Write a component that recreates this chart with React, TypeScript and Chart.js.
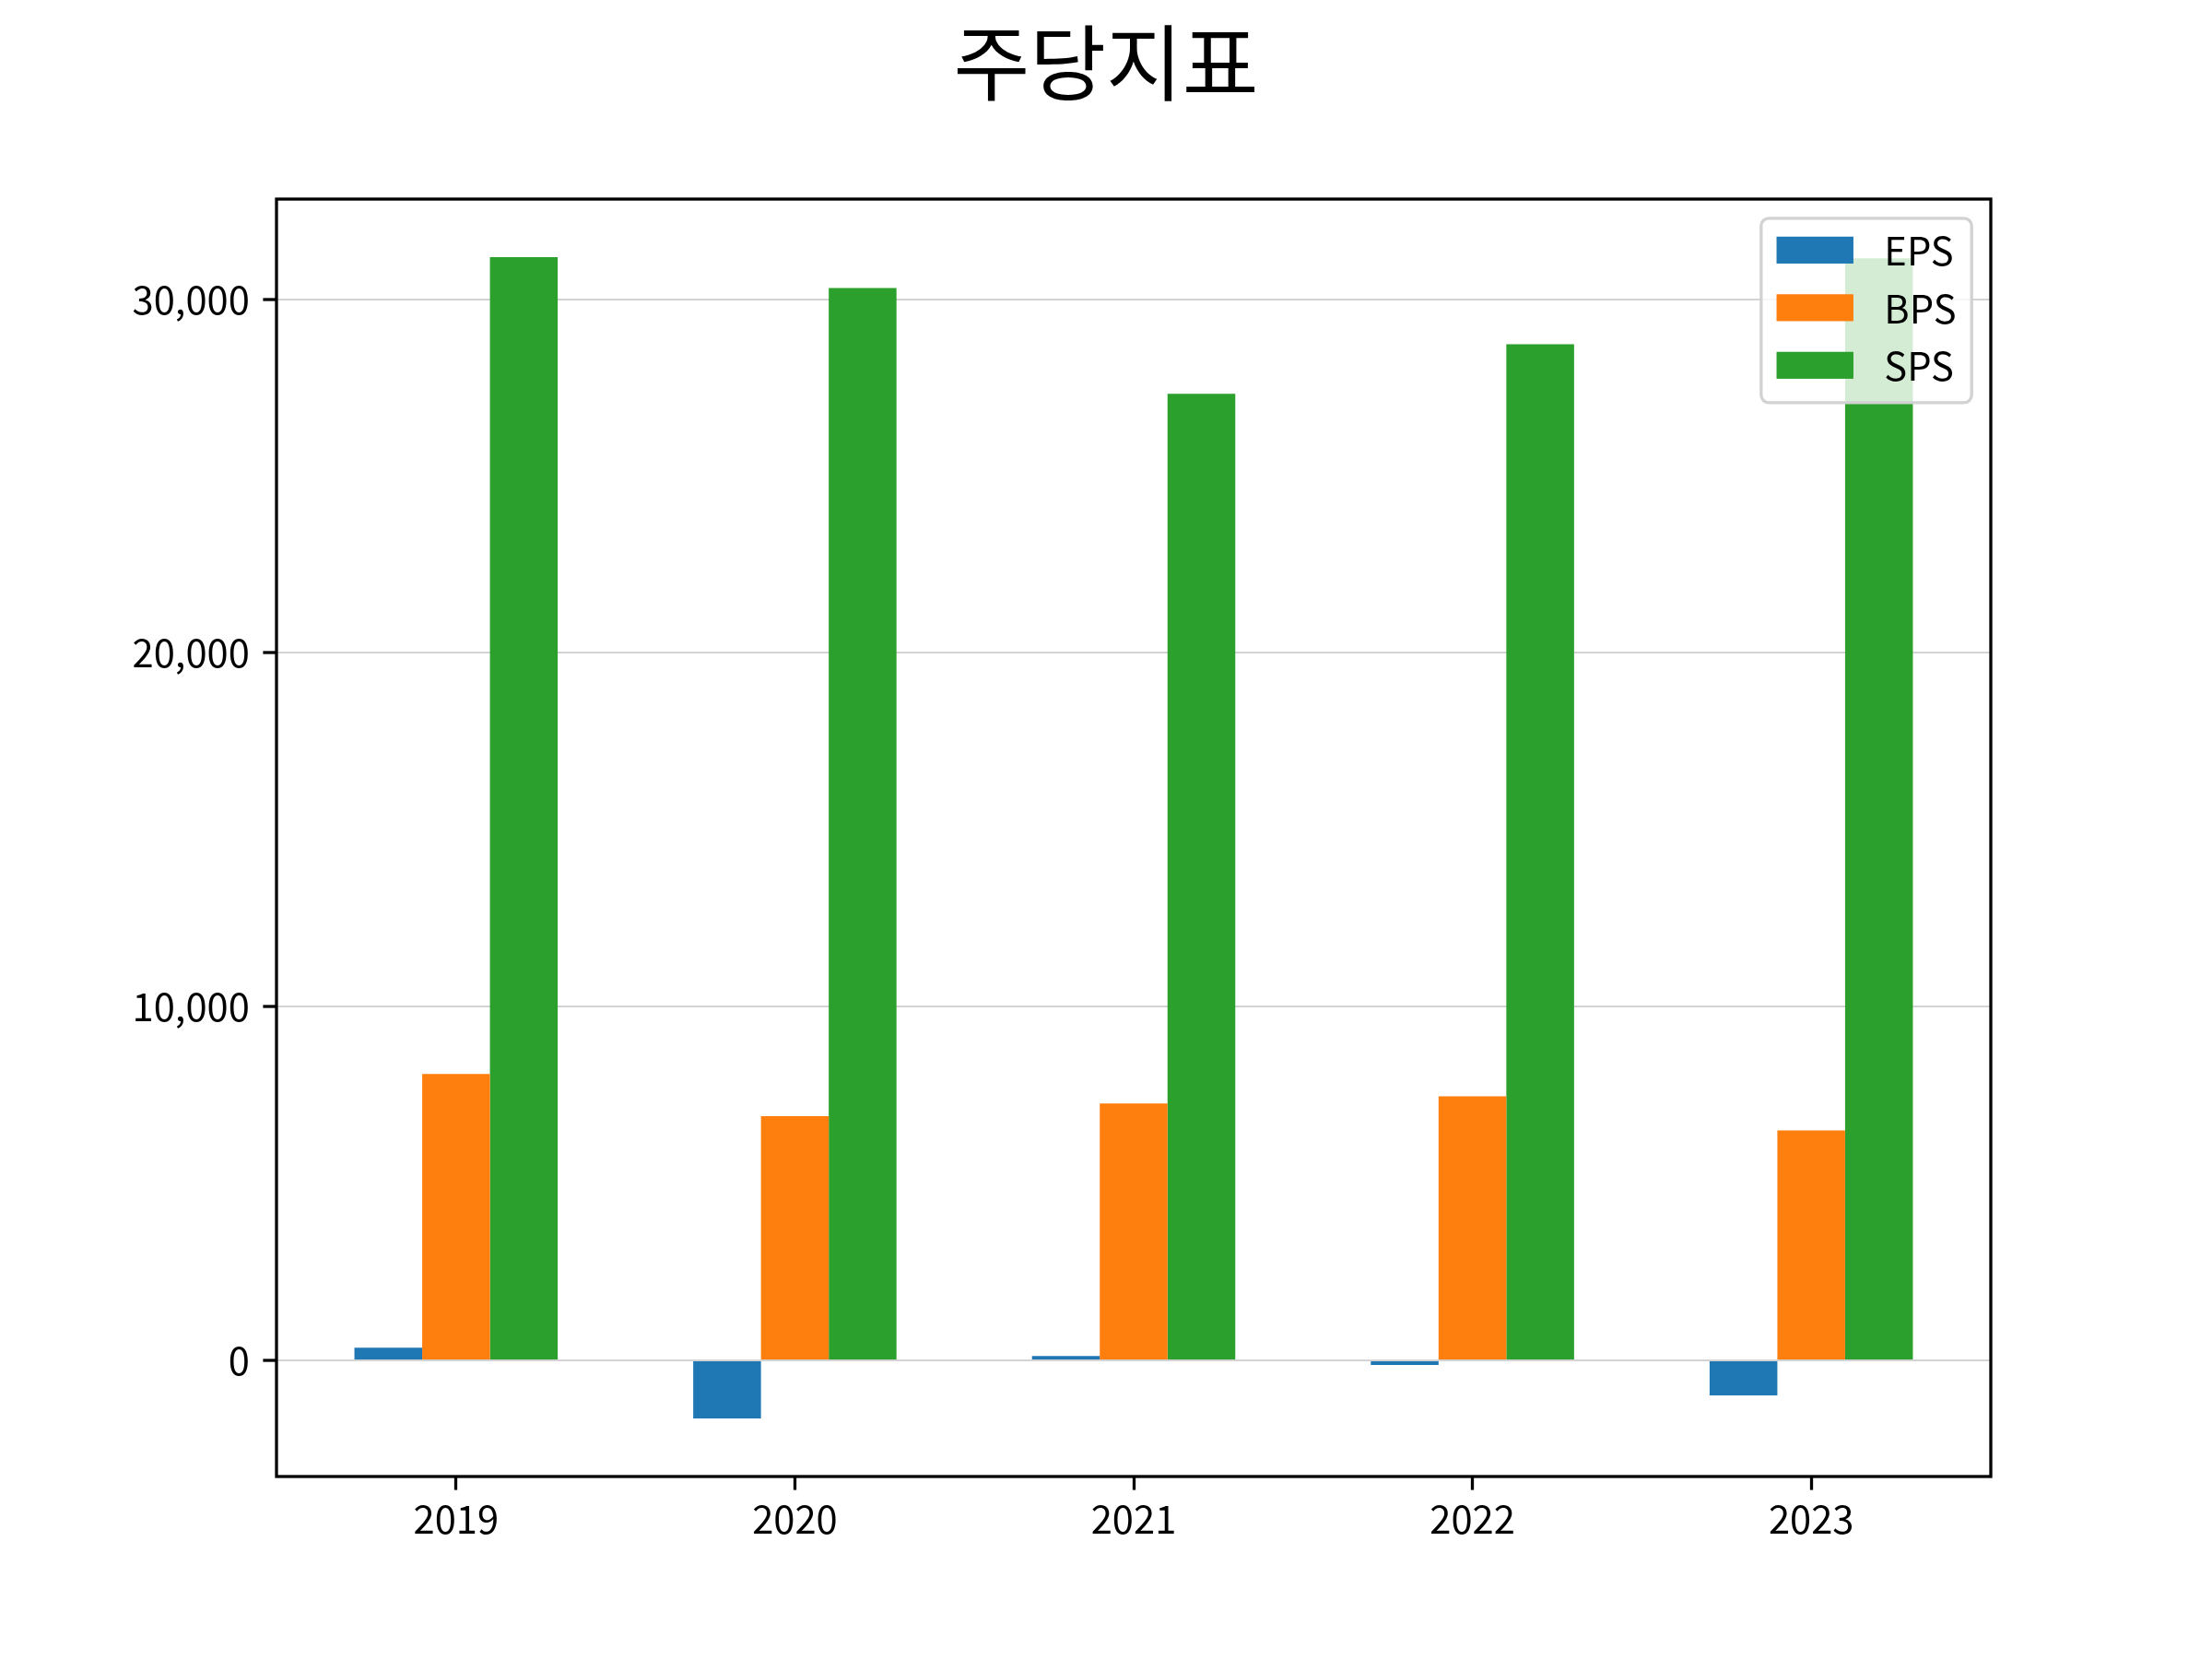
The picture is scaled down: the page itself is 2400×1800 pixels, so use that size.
import { useEffect, useRef } from "react";
import { Chart, registerables } from "chart.js";
import type { Plugin } from "chart.js";

Chart.register(...registerables);

const TITLE = "주당지표";
const YEARS = ["2019", "2020", "2021", "2022", "2023"];
const EPS = [357, -1640, 122, -130, -990];
const BPS = [8100, 6905, 7265, 7465, 6505];
const SPS = [31190, 30320, 27330, 28725, 31160];
const Y_TICKS = [0, 10000, 20000, 30000];

const FONT = '"Noto Sans CJK KR", "Open Sans", sans-serif';
const FS = 41.7; // 10pt @ 300dpi

// draws the suptitle, the four spines and a matplotlib-style legend box
const framePlugin: Plugin<"bar"> = {
  id: "mplFrame",
  afterDraw(chart) {
    const { ctx, chartArea: a } = chart;
    ctx.save();

    ctx.fillStyle = "#000";
    ctx.font = `90px ${FONT}`;
    ctx.textAlign = "center";
    ctx.textBaseline = "middle";
    ctx.fillText(TITLE, chart.width / 2, 68);

    ctx.strokeStyle = "#000";
    ctx.lineWidth = 3.3;
    ctx.strokeRect(a.left, a.top, a.right - a.left, a.bottom - a.top);

    // legend
    const sets = chart.data.datasets;
    ctx.font = `${FS}px ${FONT}`;
    const textW = Math.max(...sets.map((d) => ctx.measureText(String(d.label)).width));
    const pad = 16.7;
    const handleW = 83.4;
    const gap = 33.4;
    const boxW = pad * 2 + handleW + gap + textW;
    const boxH = pad * 2 + sets.length * FS + (sets.length - 1) * 20.8;
    const boxX = a.right - 20.8 - boxW;
    const boxY = a.top + 20.8;

    ctx.beginPath();
    ctx.roundRect(boxX, boxY, boxW, boxH, 8.3);
    ctx.fillStyle = "rgba(255,255,255,0.8)";
    ctx.fill();
    ctx.strokeStyle = "#d2d2d2";
    ctx.lineWidth = 3.3;
    ctx.stroke();

    ctx.textAlign = "left";
    sets.forEach((d, i) => {
      const cy = boxY + pad + FS / 2 - 3 + i * (FS + 20.8);
      ctx.fillStyle = String(d.backgroundColor);
      ctx.fillRect(boxX + pad, cy - 14.6, handleW, 29.2);
      ctx.fillStyle = "#000";
      ctx.fillText(String(d.label), boxX + pad + handleW + gap, cy + 1);
    });

    ctx.restore();
  },
};

export default function App() {
  const canvasRef = useRef<HTMLCanvasElement | null>(null);

  useEffect(() => {
    document.body.style.margin = "0";
    if (!canvasRef.current) return;

    const toPoints = (vals: number[]) => vals.map((y, i) => ({ x: i, y }));

    const chart = new Chart(canvasRef.current, {
      type: "bar",
      data: {
        datasets: [
          { label: "EPS", data: toPoints(EPS), backgroundColor: "#1f77b4" },
          { label: "BPS", data: toPoints(BPS), backgroundColor: "#ff7f0e" },
          { label: "SPS", data: toPoints(SPS), backgroundColor: "#2ca02c" },
        ],
      },
      options: {
        animation: false,
        responsive: false,
        devicePixelRatio: 1,
        layout: { padding: { top: 216, right: 240, left: 0, bottom: 0 } },
        datasets: {
          bar: { categoryPercentage: 0.6, barPercentage: 1, borderWidth: 0 },
        },
        plugins: {
          legend: { display: false },
          title: { display: false },
          tooltip: { enabled: false },
        },
        scales: {
          x: {
            type: "linear",
            min: -0.53,
            max: 4.53,
            offset: false,
            afterFit: (s) => {
              s.height = 198;
            },
            afterBuildTicks: (s) => {
              s.ticks = YEARS.map((_, i) => ({ value: i }));
            },
            border: { display: false },
            grid: {
              offset: false,
              drawOnChartArea: false,
              drawTicks: true,
              tickLength: 14.6,
              tickWidth: 3.3,
              tickColor: "#000",
            },
            ticks: {
              color: "#000",
              padding: 7,
              maxRotation: 0,
              font: { family: FONT, size: FS },
              callback: (v) => YEARS[Number(v)] ?? "",
            },
          },
          y: {
            min: -3282,
            max: 32832,
            z: 1,
            afterFit: (s) => {
              s.width = 300;
            },
            afterBuildTicks: (s) => {
              s.ticks = Y_TICKS.map((value) => ({ value }));
            },
            border: { display: false },
            grid: {
              color: "#d3d3d3",
              lineWidth: 2,
              drawTicks: true,
              tickLength: 14.6,
              tickWidth: 3.3,
              tickColor: "#000",
            },
            ticks: {
              color: "#000",
              padding: 14.6,
              font: { family: FONT, size: FS },
              callback: (v) => Number(v).toLocaleString("en-US"),
            },
          },
        },
      },
      plugins: [framePlugin],
    });

    return () => chart.destroy();
  }, []);

  return (
    <div style={{ width: 2400, height: 1800, background: "#fff" }}>
      <canvas ref={canvasRef} width={2400} height={1800} style={{ width: 2400, height: 1800 }} />
    </div>
  );
}
